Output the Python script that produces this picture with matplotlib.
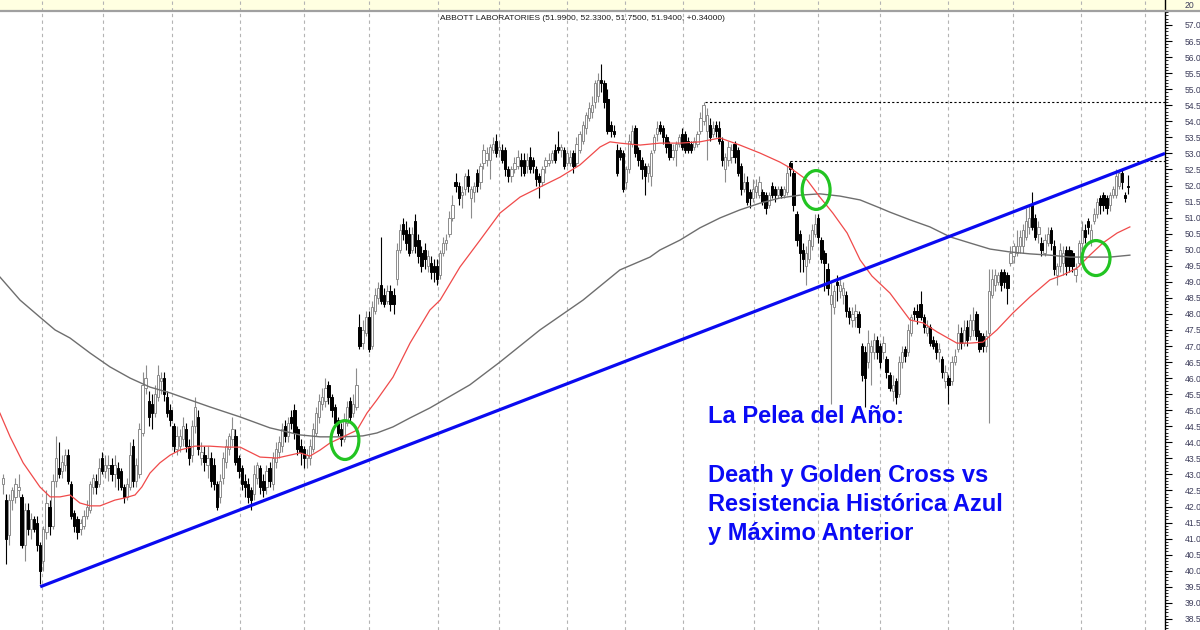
import numpy as np
import matplotlib
matplotlib.use("Agg")
import matplotlib.pyplot as plt
from matplotlib.patches import Ellipse
from matplotlib.ticker import MultipleLocator, FormatStrFormatter

# daily candles (open, high, low, close)
candles_1 = [
    (42.7, 43.0, 42.4, 42.9), (42.2, 42.4, 40.2, 41.0), (41.1, 42.4, 40.8, 42.2), (42.2, 42.6, 41.9, 42.5),
    (42.3, 42.9, 42.1, 42.7), (42.5, 43.0, 42.3, 42.6), (42.3, 42.4, 40.7, 40.8), (40.8, 42.1, 40.3, 41.9),
    (41.9, 42.1, 41.1, 41.3), (41.3, 41.8, 41.0, 41.6), (41.6, 41.7, 41.2, 41.3), (41.5, 41.7, 40.6, 40.8),
    (40.8, 40.9, 39.6, 40.0), (40.3, 41.4, 40.0, 41.3), (41.2, 42.5, 41.0, 42.1), (42.0, 42.2, 41.1, 41.4),
    (41.4, 43.0, 41.3, 42.8), (42.8, 44.2, 42.6, 43.5), (43.2, 44.0, 42.9, 43.0), (43.1, 43.6, 42.9, 43.4),
    (43.3, 43.8, 43.1, 43.6), (43.6, 43.8, 42.7, 42.8), (42.7, 42.8, 41.6, 41.7), (41.8, 41.9, 41.2, 41.4),
    (41.6, 41.7, 41.0, 41.2), (41.3, 41.6, 41.1, 41.5), (41.4, 41.9, 41.3, 41.7), (41.7, 42.2, 41.6, 42.0),
    (41.9, 42.8, 41.8, 42.7), (42.6, 43.0, 42.4, 42.9), (42.8, 43.0, 42.4, 42.6), (42.7, 43.5, 42.6, 43.2),
    (43.5, 43.7, 43.0, 43.1), (43.1, 43.6, 42.9, 43.3), (43.2, 43.6, 42.8, 43.3), (43.3, 43.5, 42.8, 43.0),
    (43.0, 43.6, 42.6, 43.3), (43.2, 43.4, 42.5, 42.9), (43.1, 43.2, 42.5, 42.6), (42.6, 42.7, 42.1, 42.3),
    (42.3, 42.9, 42.2, 42.7), (42.6, 44.0, 42.5, 43.6), (43.9, 44.1, 42.6, 42.8), (42.8, 43.5, 42.6, 43.3),
    (43.0, 44.6, 42.9, 44.4),
]
candles_2 = [
    (44.3, 46.2, 44.2, 45.8), (45.7, 46.4, 45.5, 46.0), (45.3, 45.6, 44.5, 44.8), (45.2, 45.5, 44.4, 44.9),
    (44.9, 45.8, 44.8, 45.5), (45.4, 46.4, 45.3, 46.1), (45.9, 46.2, 45.5, 46.0), (46.0, 46.2, 45.3, 45.5),
    (45.4, 45.6, 44.8, 44.9), (45.0, 45.2, 44.5, 44.7), (44.5, 44.6, 43.7, 43.9), (43.8, 44.5, 43.6, 44.2),
    (43.9, 44.4, 43.7, 44.2), (44.1, 44.8, 43.9, 44.5), (44.4, 44.6, 43.7, 43.9), (43.9, 44.1, 43.3, 43.5),
    (43.6, 44.7, 43.4, 44.5), (44.5, 45.4, 44.3, 45.1), (44.8, 45.0, 43.6, 43.8), (43.5, 44.0, 43.3, 43.7),
    (43.6, 43.9, 43.1, 43.4), (43.3, 43.9, 42.9, 43.5), (43.5, 43.7, 42.6, 42.8), (43.3, 43.5, 42.5, 42.7),
    (42.7, 42.8, 41.9, 42.0), (42.3, 43.0, 42.1, 42.8), (42.9, 43.7, 42.7, 43.5), (43.4, 44.1, 43.2, 43.9),
    (43.8, 44.3, 43.6, 44.2), (44.1, 44.8, 43.9, 44.4), (44.2, 44.4, 43.3, 43.4), (43.5, 43.6, 42.9, 43.1),
    (43.2, 43.3, 42.5, 42.7), (42.8, 43.0, 42.3, 42.6), (42.7, 42.9, 42.1, 42.3), (42.5, 42.6, 41.9, 42.2),
    (42.4, 43.3, 42.2, 43.0), (42.9, 43.4, 42.7, 43.3), (43.2, 43.3, 42.4, 42.6), (42.8, 43.0, 42.3, 42.5),
    (42.6, 43.3, 42.4, 43.1), (43.2, 43.4, 42.6, 42.8), (42.7, 43.7, 42.5, 43.5), (43.4, 44.0, 43.2, 43.8),
    (43.7, 44.2, 43.5, 44.0), (43.9, 44.6, 43.7, 44.4), (44.5, 44.7, 44.0, 44.2), (44.2, 44.8, 44.0, 44.6),
    (44.8, 45.0, 44.4, 44.6), (45.0, 45.2, 44.1, 44.3), (44.4, 44.5, 43.6, 43.8), (43.9, 44.1, 43.3, 43.7),
    (43.8, 43.9, 43.2, 43.5), (43.5, 43.8, 43.2, 43.6), (43.5, 44.1, 43.3, 43.9), (43.8, 44.6, 43.7, 44.4),
    (44.3, 45.1, 44.2, 44.9), (44.8, 45.5, 44.6, 45.3), (45.2, 45.7, 45.0, 45.4), (45.3, 46.0, 45.1, 45.7),
    (45.8, 45.9, 45.2, 45.4), (45.4, 45.5, 44.8, 45.0), (45.1, 45.2, 44.5, 44.6), (44.7, 44.8, 44.2, 44.3),
    (44.4, 44.6, 43.9, 44.1), (44.1, 44.9, 44.0, 44.7), (44.6, 45.3, 44.5, 45.1), (45.3, 45.4, 44.6, 44.8),
    (44.9, 45.5, 44.8, 45.2), (45.1, 46.3, 45.0, 45.8),
]
candles_3 = [
    (47.6, 48.0, 46.9, 47.0), (47.1, 47.8, 46.9, 47.5), (47.4, 48.1, 47.3, 47.9), (47.9, 48.1, 46.8, 46.9),
    (47.0, 48.4, 46.9, 48.2), (48.1, 48.8, 48.0, 48.6), (48.5, 49.0, 48.3, 48.8), (48.9, 50.4, 48.3, 48.4),
    (48.6, 48.8, 48.2, 48.3), (48.4, 48.9, 48.3, 48.7), (48.7, 48.9, 48.1, 48.3), (48.6, 48.8, 48.0, 48.3),
    (49.1, 50.2, 48.9, 50.0), (50.0, 50.8, 49.9, 50.6), (50.8, 51.0, 50.3, 50.5), (50.6, 50.9, 50.0, 50.2),
    (50.5, 50.7, 49.8, 49.9), (50.0, 50.7, 49.9, 50.5), (50.9, 51.1, 49.9, 50.1), (50.3, 50.5, 49.6, 49.8),
    (49.9, 50.1, 49.3, 49.5), (50.0, 50.2, 49.4, 49.7), (49.5, 50.0, 49.3, 49.8), (49.6, 49.8, 49.1, 49.3),
    (49.5, 49.7, 49.0, 49.3), (49.5, 49.7, 48.9, 49.1), (49.2, 50.0, 49.1, 49.9), (49.9, 50.4, 49.8, 50.2),
    (50.2, 50.5, 50.0, 50.3), (50.5, 51.2, 50.4, 51.0), (51.0, 51.7, 50.9, 51.4), (52.1, 52.4, 51.8, 52.0),
    (52.0, 52.1, 51.4, 51.6), (51.7, 52.0, 51.3, 51.8), (51.9, 52.4, 51.7, 52.3), (52.3, 52.5, 51.8, 52.0),
    (51.6, 52.0, 51.0, 51.9), (51.8, 52.1, 51.5, 52.0), (52.4, 52.5, 51.8, 52.0), (52.1, 52.7, 51.9, 52.6),
    (52.7, 53.3, 52.5, 53.1), (52.8, 53.2, 52.6, 53.0), (52.8, 53.3, 52.2, 53.2), (53.1, 53.5, 53.0, 53.3),
    (53.4, 53.6, 52.9, 53.0), (53.1, 53.4, 52.9, 53.2), (53.1, 53.3, 52.7, 52.8), (53.1, 53.2, 52.3, 52.5),
    (52.5, 52.6, 52.1, 52.3), (52.3, 52.6, 52.1, 52.5), (52.5, 52.9, 52.4, 52.7), (52.6, 53.1, 52.5, 52.9),
    (52.8, 53.0, 52.3, 52.6), (52.8, 53.0, 52.3, 52.4), (52.6, 53.0, 52.4, 52.8), (52.9, 53.2, 52.4, 52.5),
    (52.8, 52.9, 52.4, 52.6), (52.5, 52.6, 52.0, 52.2), (52.3, 52.4, 51.6, 52.1), (52.1, 52.6, 52.0, 52.5),
    (52.6, 52.9, 52.4, 52.8), (52.7, 53.0, 52.6, 52.8), (52.8, 53.1, 52.7, 53.0), (53.1, 53.3, 52.7, 52.8),
    (53.2, 53.7, 53.0, 53.1), (53.1, 53.3, 52.9, 53.2), (53.1, 53.2, 52.5, 52.6), (52.7, 53.1, 52.6, 53.0),
    (52.7, 53.1, 52.6, 52.9), (53.0, 53.1, 52.4, 52.6), (52.7, 53.5, 52.6, 53.3), (53.1, 53.7, 53.0, 53.6),
    (53.4, 54.0, 53.3, 53.9), (53.8, 54.3, 53.6, 54.2), (54.1, 54.6, 54.0, 54.4), (54.3, 54.8, 54.1, 54.5),
    (54.6, 55.3, 54.4, 55.2), (54.8, 55.5, 54.6, 55.3), (55.3, 55.8, 54.9, 55.2), (55.2, 55.3, 54.4, 54.6),
    (54.7, 55.0, 53.6, 53.7), (53.9, 54.0, 53.5, 53.7), (53.7, 53.9, 53.5, 53.6), (53.1, 53.3, 52.3, 52.4),
    (53.1, 53.2, 52.8, 52.9), (53.0, 53.1, 51.8, 51.9), (52.1, 52.6, 51.9, 52.5), (52.5, 53.6, 52.4, 53.4),
    (53.3, 53.9, 53.2, 53.7), (53.8, 53.9, 52.9, 53.0), (53.1, 53.2, 52.6, 52.8),
]
candles_4 = [
    (52.8, 52.9, 52.2, 52.5), (52.6, 52.7, 51.7, 52.3), (52.4, 52.7, 52.1, 52.6), (52.3, 53.1, 52.0, 53.0),
    (53.1, 53.6, 53.0, 53.5), (53.6, 54.0, 53.4, 53.8), (53.9, 54.0, 53.6, 53.7), (53.8, 53.9, 53.3, 53.5),
    (53.5, 53.6, 53.0, 53.2), (53.3, 53.4, 52.8, 52.9), (52.9, 53.3, 52.8, 53.1), (53.1, 53.4, 52.6, 53.3),
    (53.3, 53.6, 53.2, 53.5), (53.6, 53.8, 53.1, 53.2), (53.6, 53.7, 53.0, 53.1), (53.4, 53.5, 53.0, 53.1),
    (53.3, 53.4, 53.0, 53.1), (53.2, 53.5, 53.1, 53.4), (53.3, 53.7, 53.2, 53.6), (53.7, 54.3, 53.6, 54.1),
    (54.0, 54.6, 53.9, 54.5), (53.7, 54.4, 52.8, 54.2), (53.9, 54.1, 53.4, 53.5), (53.6, 54.0, 53.5, 53.8),
    (53.9, 54.0, 53.5, 53.7), (53.8, 54.0, 53.3, 53.4), (53.4, 53.5, 52.6, 52.8), (52.5, 53.0, 52.1, 52.9),
    (52.8, 53.4, 52.6, 53.2), (52.9, 53.3, 52.7, 53.1), (53.3, 53.4, 52.7, 52.9), (53.1, 53.2, 52.3, 52.4),
    (52.6, 52.7, 51.7, 51.9), (51.9, 52.4, 51.8, 52.1), (52.1, 52.3, 51.4, 51.5), (51.8, 51.9, 51.3, 51.6),
    (51.6, 52.2, 51.5, 51.9), (51.8, 52.2, 51.6, 52.0), (51.7, 52.3, 51.6, 52.1), (51.8, 51.9, 51.4, 51.5),
    (51.7, 51.8, 51.1, 51.3), (51.4, 51.8, 51.3, 51.7), (52.0, 52.1, 51.6, 51.7), (51.9, 52.0, 51.5, 51.7),
    (51.7, 52.0, 51.6, 51.9), (51.9, 52.0, 51.6, 51.7), (51.7, 52.0, 51.6, 51.9), (51.8, 52.6, 51.7, 52.4),
    (52.7, 52.75, 52.3, 52.5), (52.4, 52.5, 51.2, 51.4), (51.1, 51.2, 50.1, 50.3), (50.5, 50.6, 49.3, 49.9),
    (50.0, 50.2, 49.3, 49.7), (49.5, 50.1, 48.9, 49.9), (49.7, 50.5, 49.6, 50.3), (50.1, 50.8, 50.0, 50.6),
    (50.5, 51.1, 50.4, 50.8), (51.0, 51.1, 50.2, 50.4), (50.3, 50.4, 49.6, 49.7), (49.9, 50.0, 48.7, 49.6),
    (49.4, 49.6, 48.6, 48.8), (48.3, 49.0, 45.2, 48.6), (48.2, 48.9, 48.0, 48.7), (49.0, 49.2, 48.4, 48.9),
    (48.7, 49.1, 48.5, 48.9), (48.6, 49.0, 48.3, 48.8), (48.6, 48.7, 47.9, 48.1), (48.1, 48.2, 47.7, 47.9),
    (47.8, 48.2, 47.6, 48.0), (47.9, 48.3, 47.6, 48.1), (48.0, 48.1, 47.4, 47.6), (47.0, 47.1, 45.9, 46.1),
    (46.8, 47.0, 45.1, 46.0), (46.5, 47.5, 46.3, 47.1), (46.8, 47.2, 45.8, 47.0), (46.8, 47.4, 46.6, 47.2),
    (47.2, 47.3, 46.6, 46.8),
]
candles_5 = [
    (47.0, 47.1, 46.3, 46.5), (46.8, 47.3, 46.6, 47.1), (46.6, 46.7, 46.0, 46.2), (46.1, 46.2, 45.6, 45.7),
    (45.6, 46.1, 45.3, 45.8), (45.9, 46.0, 45.2, 45.4), (45.5, 46.7, 45.4, 46.5), (46.5, 47.0, 46.3, 46.8),
    (46.9, 47.0, 46.5, 46.7), (46.8, 47.7, 46.7, 47.5), (47.4, 48.0, 47.3, 47.9), (48.1, 48.2, 47.8, 48.0),
    (48.1, 48.3, 47.7, 47.9), (48.3, 48.7, 47.8, 47.9), (47.9, 48.0, 47.4, 47.6), (47.4, 47.8, 47.3, 47.6),
    (47.6, 47.7, 47.0, 47.1), (47.2, 47.3, 46.9, 47.0), (47.1, 47.2, 46.6, 46.8), (46.8, 47.1, 46.5, 46.9),
    (46.6, 46.7, 46.0, 46.2), (45.9, 46.4, 45.7, 46.2), (46.0, 46.1, 45.2, 45.8), (45.9, 46.7, 45.8, 46.5),
    (46.5, 46.9, 46.4, 46.7), (46.9, 47.7, 46.8, 47.4), (47.4, 47.6, 46.9, 47.1), (47.1, 47.8, 47.0, 47.5),
    (47.6, 47.8, 47.0, 47.2), (47.3, 48.0, 47.2, 47.8), (47.5, 48.2, 47.3, 47.8), (48.0, 48.1, 47.2, 47.3),
    (47.4, 47.5, 46.8, 46.9), (47.3, 47.4, 46.8, 47.0), (47.0, 47.5, 46.8, 47.3), (47.4, 49.4, 44.6, 48.7),
    (48.6, 49.4, 48.5, 49.1), (48.9, 49.4, 48.7, 49.2), (49.0, 49.3, 48.9, 49.2), (49.3, 49.4, 48.7, 48.9),
    (49.3, 49.4, 48.8, 49.0), (49.2, 49.3, 48.3, 48.8), (49.6, 50.1, 49.5, 49.9), (49.8, 50.2, 49.6, 50.1),
    (49.9, 50.6, 49.8, 50.1), (50.1, 50.6, 49.9, 50.4), (50.1, 50.8, 49.9, 50.6), (50.4, 51.3, 50.3, 50.9),
    (50.7, 51.4, 50.5, 51.0), (51.4, 51.8, 50.6, 50.7), (51.0, 51.1, 50.3, 50.4), (50.5, 50.9, 50.2, 50.7),
    (50.2, 50.4, 49.8, 50.0), (49.9, 50.5, 49.8, 50.3), (50.2, 50.7, 50.1, 50.5), (50.6, 50.7, 50.0, 50.2),
    (50.1, 50.3, 49.2, 49.4), (49.2, 49.6, 48.9, 49.5), (49.5, 50.2, 49.3, 50.0), (49.6, 50.1, 49.2, 49.9),
    (50.0, 50.1, 49.2, 49.5), (50.0, 50.1, 49.3, 49.5), (49.9, 50.0, 49.3, 49.5), (49.2, 49.6, 49.0, 49.4),
    (49.6, 50.3, 49.5, 50.2), (50.2, 50.9, 50.0, 50.6), (50.6, 50.8, 50.2, 50.4), (50.9, 51.0, 50.5, 50.7),
    (50.3, 50.8, 50.1, 50.6), (50.9, 51.3, 50.8, 51.1), (51.1, 51.6, 51.0, 51.5), (51.6, 51.7, 51.1, 51.4),
    (51.7, 51.8, 51.2, 51.4), (51.6, 51.7, 51.1, 51.3), (51.4, 51.8, 51.2, 51.7), (51.7, 52.0, 51.6, 51.9),
    (51.7, 52.5, 51.6, 52.3), (52.0, 52.5, 51.9, 52.4), (52.4, 52.5, 51.9, 52.1), (51.7, 51.8, 51.5, 51.6),
    (51.99, 52.33, 51.75, 51.94),
]

# moving averages (candle index, price)
ma_fast_x = [-1, 2.3, 6.5, 11.9, 15.2, 18.4, 21.6, 24.8, 28.1, 31.3, 36.1, 39.4, 42.6, 44.8, 47.4, 50.6,
             53.9, 57.1, 61.9, 66.8, 71.6, 76.5, 82.9, 88.4, 95.8, 99.0, 102.3, 105.5, 109.7, 114.2, 117.4,
             120.6, 125.8, 131.3, 137.7, 141.0, 147.4, 153.9, 160.3, 166.8, 173.2, 179.7, 186.1, 192.6,
             195.8, 199.0, 205.5, 211.9, 218.4, 224.8, 231.3, 237.7, 244.2, 250.6, 253.9, 259.4, 263.5,
             267.7, 272.3, 276.5, 280.3, 286.1, 292.6, 296.8, 301.3, 307.7, 311.9, 316.1, 320.6, 325.8,
             331.3, 337.7, 341.9, 346.5, 350.6, 354.8, 359.4, 363.5]
ma_fast_y = [44.91, 44.17, 43.36, 42.61, 42.30, 42.30, 42.36, 42.11, 42.02, 42.02, 42.20, 42.27, 42.36,
             42.61, 43.04, 43.36, 43.60, 43.76, 43.88, 43.88, 43.85, 43.85, 43.54, 43.51, 43.67, 43.57,
             43.76, 43.98, 44.17, 44.38, 44.91, 45.32, 46.03, 47.09, 48.12, 48.43, 49.46, 50.30, 51.14,
             51.64, 51.95, 52.26, 52.64, 53.20, 53.36, 53.32, 53.26, 53.32, 53.32, 53.36, 53.48, 53.26,
             53.01, 52.73, 52.55, 52.17, 51.64, 51.14, 50.52, 49.68, 49.18, 48.65, 47.81, 47.72, 47.44,
             47.09, 47.09, 47.12, 47.50, 48.03, 48.53, 49.06, 49.21, 49.43, 49.83, 50.21, 50.52, 50.71]
ma_slow_x = [-1, 5.5, 11.9, 16.8, 21.6, 28.1, 34.5, 41.0, 47.4, 53.9, 60.3, 66.8, 76.5, 86.1, 95.8, 102.3,
             109.7, 116.1, 120.6, 125.8, 131.3, 137.7, 150.6, 160.3, 173.2, 187.1, 199.0, 208.7, 211.9,
             218.4, 224.8, 231.3, 237.7, 244.2, 250.6, 257.1, 263.5, 270.0, 276.5, 282.9, 286.1, 292.6,
             299.0, 305.5, 311.9, 318.4, 324.8, 331.3, 337.7, 344.2, 350.6, 357.1, 363.5]
ma_slow_y = [49.15, 48.43, 47.90, 47.50, 47.25, 46.78, 46.35, 46.00, 45.72, 45.54, 45.32, 45.10, 44.79,
             44.45, 44.23, 44.17, 44.17, 44.20, 44.29, 44.48, 44.76, 45.07, 45.79, 46.50, 47.50, 48.43,
             49.37, 49.77, 49.99, 50.30, 50.68, 50.99, 51.24, 51.45, 51.61, 51.70, 51.74, 51.67, 51.55,
             51.30, 51.17, 50.93, 50.71, 50.40, 50.21, 50.02, 49.93, 49.87, 49.83, 49.77, 49.77, 49.77,
             49.83]

# month boundaries (candle index) for the dashed grid
month_starts = [12.6, 32.4, 54.5, 76.5, 97.1, 118.1, 140.2, 160.0, 181.9, 200.6, 219.4, 242.3, 262.9,
                282.9, 304.8, 325.8, 347.7, 368.4]

# drawings on the chart
trend_x = [12.0, 374.84]
trend_y = [39.5, 53.0]
prev_high, prev_high_start = 54.6, 226.5
resist_high, resist_start = 52.75, 254.0
cross_x = [110.3, 262.3, 352.6]
cross_y = [44.07, 51.86, 49.74]
cross_h = [1.21, 1.21, 1.09]

note_lines = ["La Pelea del Año:", "", "Death y Golden Cross vs",
              "Resistencia Histórica Azul", "y Máximo Anterior"]

plt.rcParams['font.family'] = ['Liberation Sans', 'DejaVu Sans']

data = np.array(candles_1 + candles_2 + candles_3 + candles_4 + candles_5)
opens, highs, lows, closes = data[:, 0], data[:, 1], data[:, 2], data[:, 3]
idx = np.arange(len(data))
up = closes >= opens
dn = ~up

W, H = 1200, 630
fig = plt.figure(figsize=(12, 6.3), dpi=100)
ax = fig.add_axes([0, 0, 1165 / W, 619 / H])
band = fig.add_axes([0, 619 / H, 1, 11 / H])

xmin, xmax = -0.968, 374.84
ax.set_xlim(xmin, xmax)
ax.set_ylim(38.153, 57.436)

for m in month_starts:
    ax.axvline(m, color='#b4b4b4', lw=0.8, ls=(0, (3, 3)), zorder=0)

ax.vlines(idx[up], lows[up], highs[up], color='#8c8c8c', lw=0.8, zorder=2)
ax.vlines(idx[dn], lows[dn], highs[dn], color='black', lw=0.8, zorder=2)
ax.bar(idx[up], closes[up] - opens[up], bottom=opens[up], width=0.72,
       facecolor='white', edgecolor='#8c8c8c', lw=0.7, zorder=3)
ax.bar(idx[dn], opens[dn] - closes[dn], bottom=closes[dn], width=0.72,
       facecolor='black', edgecolor='black', lw=0.7, zorder=3)

ax.plot(ma_slow_x, ma_slow_y, color='#6e6e6e', lw=1.0, zorder=4)
ax.plot(ma_fast_x, ma_fast_y, color='#f04a4a', lw=0.9, zorder=4)

ax.plot(trend_x, trend_y, color='#0a0af0', lw=2.3, zorder=6, solid_capstyle='butt')
ax.plot([prev_high_start, xmax], [prev_high, prev_high], color='black', lw=0.8, ls=(0, (2, 2)), zorder=5)
ax.plot([resist_start, xmax], [resist_high, resist_high], color='black', lw=0.8, ls=(0, (2, 2)), zorder=5)

for cx, cy, ch in zip(cross_x, cross_y, cross_h):
    ax.add_patch(Ellipse((cx, cy), 9.0, ch, fill=False, edgecolor='#22c422', lw=2.3, zorder=7))

y0, step = 44.60, 0.911
for k, line in enumerate(note_lines):
    ax.text(227.4, y0 - k * step, line, color='#0a0af5', fontsize=17, fontweight='bold',
            ha='left', va='baseline', zorder=8)

for s in ['left', 'top', 'bottom']:
    ax.spines[s].set_visible(False)
ax.spines['right'].set_linewidth(1.0)
ax.set_xticks([])
ax.yaxis.tick_right()
ax.yaxis.set_major_locator(MultipleLocator(0.5))
ax.yaxis.set_minor_locator(MultipleLocator(0.1))
ax.yaxis.set_major_formatter(FormatStrFormatter('%.1f'))
ax.tick_params(axis='y', which='major', direction='out', length=5, width=0.8, pad=9,
               labelsize=6.2, labelcolor='#3c3c5a')
ax.tick_params(axis='y', which='minor', direction='out', length=2.5, width=0.6)

# yellow strip on top
band.set_facecolor('#ffffe1')
band.set_xlim(xmin, xmin + 1200 / 3.1)
band.set_ylim(0, 1)
for m in month_starts:
    band.axvline(m, color='#b4b4b4', lw=0.8, ls=(0, (3, 3)))
band.axvline(xmax, color='black', lw=1.0)
band.set_xticks([])
band.set_yticks([])
for s in ['left', 'top', 'right']:
    band.spines[s].set_visible(False)
band.spines['bottom'].set_color('#a0a0a0')
band.spines['bottom'].set_linewidth(1.6)
band.text(0.995, 0.5, "20", transform=band.transAxes, ha='right', va='center',
          fontsize=6.2, color='#3c3c5a')

chg = closes[-1] - closes[-2]
title = "ABBOTT LABORATORIES (%.4f, %.4f, %.4f, %.4f, %+.5f)" % (opens[-1], highs[-1], lows[-1], closes[-1], chg)
fig.text(440 / W, 1 - 18 / H, title, fontsize=6, color='#1a1a1a', ha='left', va='center')

fig.savefig('out.png', dpi=100)
